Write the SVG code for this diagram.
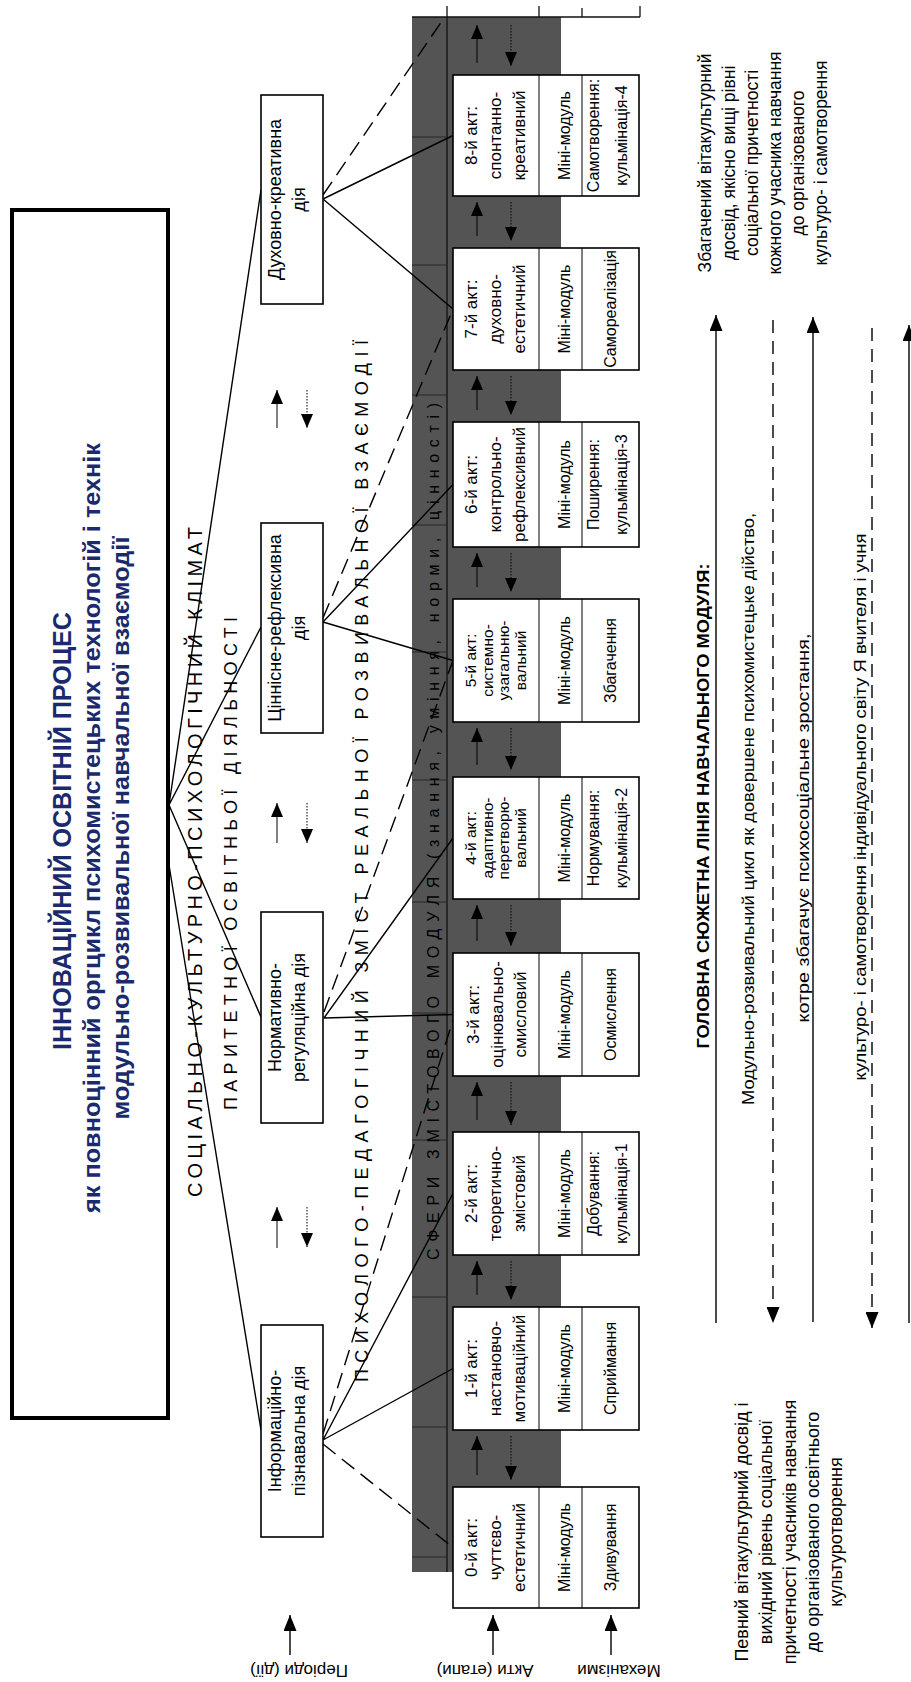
<svg xmlns="http://www.w3.org/2000/svg" width="911" height="1682" viewBox="0 0 911 1682">
<defs>
<marker id="ah" viewBox="0 0 14 12" refX="14" refY="6" markerWidth="14" markerHeight="12" markerUnits="userSpaceOnUse" orient="auto"><path d="M0,0 L14,6 L0,12 Z" fill="#000"/></marker>
<marker id="ahL" viewBox="0 0 16 13" refX="16" refY="6.5" markerWidth="16" markerHeight="13" markerUnits="userSpaceOnUse" orient="auto"><path d="M0,0 L16,6.5 L0,13 Z" fill="#000"/></marker>
</defs>
<style>
text{font-family:"Liberation Sans",Arial,sans-serif;fill:#000}
.m{text-anchor:middle}
.box{fill:#fff;stroke:#000;stroke-width:1.6}
.ln{stroke:#000;stroke-width:1.4;fill:none}
.dash{stroke-dasharray:16 8}
.rd{stroke-dasharray:13 8}
.thin{stroke:#000;stroke-width:1;fill:none}
.dot{stroke:#000;stroke-width:1;stroke-dasharray:1.5 1.5;fill:none}
.a17{font-size:17px}
.a15{font-size:15.5px}
.a16{font-size:16px}
.p18{font-size:18px}
.ttl{font-weight:bold;fill:#1a2a6c}
</style>
<rect x="0" y="0" width="911" height="1682" fill="#fff"/>

<g id="title">
<rect x="12" y="210" width="156" height="1208" fill="#fff" stroke="#000" stroke-width="4"/>
<text class="m ttl" font-size="25" transform="translate(71,831) rotate(-90)" textLength="438" lengthAdjust="spacingAndGlyphs">ІННОВАЦІЙНИЙ ОСВІТНІЙ ПРОЦЕС</text>
<text class="m ttl" font-size="24" transform="translate(100,828) rotate(-90)" textLength="770" lengthAdjust="spacingAndGlyphs">як повноцінний оргцикл психомистецьких технологій і технік</text>
<text class="m ttl" font-size="24" transform="translate(129,828) rotate(-90)" textLength="583" lengthAdjust="spacingAndGlyphs">модульно-розвивальної навчальної взаємодії</text>
</g>

<g id="band">
<rect x="412" y="17" width="149" height="1555" fill="#545454"/>
<path d="M412,17 H640 M447,6 V1572 M539,6 V17 M582,8 V17 M640,6 V17" stroke="#111" stroke-width="1.3" fill="none"/>
<path d="M412,137 H447 M412,265 H447 M412,395 H447 M412,525 H447 M412,652 H447 M412,780 H447 M412,902 H447 M412,1013 H447 M412,1140 H447 M412,1297 H447 M412,1427 H447 M412,1557 H447" stroke="#262626" stroke-width="1"/>
<text font-size="16" transform="translate(439,1260) rotate(-90)" textLength="857" lengthAdjust="spacing">СФЕРИ ЗМІСТОВОГО МОДУЛЯ (знання, уміння, норми, цінності)</text>
</g>

<g id="row-labels">
<text font-size="20" transform="translate(202,1197) rotate(-90)" textLength="670" lengthAdjust="spacing">СОЦІАЛЬНО-КУЛЬТУРНО-ПСИХОЛОГІЧНИЙ КЛІМАТ</text>
<text font-size="18" transform="translate(237,1110) rotate(-90)" textLength="493" lengthAdjust="spacing">ПАРИТЕТНОЇ ОСВІТНЬОЇ ДІЯЛЬНОСТІ</text>
<text font-size="18" transform="translate(368,1382) rotate(-90)" textLength="1042" lengthAdjust="spacing">ПСИХОЛОГО-ПЕДАГОГІЧНИЙ ЗМІСТ РЕАЛЬНОЇ РОЗВИВАЛЬНОЇ ВЗАЄМОДІЇ</text>
</g>

<g id="connectors">
<path class="ln" d="M169,805 L261,190 M169,805 L261,627 M169,805 L261,1017 M169,865 L261,1430"/>
<path class="ln" d="M323,199 L453,135.5 M323,199 L453,309 M323,622 L453,484.5 M323,622 L453,660.5 M324,1018 L453,838 M324,1018 L453,1014.5 M323,1440 L453,1193.5 M323,1440 L453,1368.5"/>
<path class="ln dash" d="M323,195 L444,18 M323,618 L453,309 M324,1012 L453,660.5 M323,1434 L453,1020 M323,1444 L453,1547.5"/>
<g id="period-arrows">
<line class="thin" x1="277" y1="428" x2="277" y2="390" marker-end="url(#ah)"/>
<line class="dot" x1="307" y1="390" x2="307" y2="428" marker-end="url(#ah)"/>
<line class="thin" x1="277" y1="843" x2="277" y2="803" marker-end="url(#ah)"/>
<line class="dot" x1="307" y1="803" x2="307" y2="843" marker-end="url(#ah)"/>
<line class="thin" x1="277" y1="1248" x2="277" y2="1207" marker-end="url(#ah)"/>
<line class="dot" x1="307" y1="1207" x2="307" y2="1247" marker-end="url(#ah)"/>
</g>
<g id="gap-arrows">
<line class="thin" x1="477" y1="63" x2="477" y2="25" marker-end="url(#ah)"/>
<line class="dot" x1="511" y1="25" x2="511" y2="66" marker-end="url(#ah)"/>
<line class="thin" x1="477" y1="236" x2="477" y2="202" marker-end="url(#ah)"/>
<line class="dot" x1="511" y1="202" x2="511" y2="241" marker-end="url(#ah)"/>
<line class="thin" x1="477" y1="410" x2="477" y2="376" marker-end="url(#ah)"/>
<line class="dot" x1="511" y1="376" x2="511" y2="415" marker-end="url(#ah)"/>
<line class="thin" x1="477" y1="587" x2="477" y2="553" marker-end="url(#ah)"/>
<line class="dot" x1="511" y1="553" x2="511" y2="592" marker-end="url(#ah)"/>
<line class="thin" x1="477" y1="765" x2="477" y2="728" marker-end="url(#ah)"/>
<line class="dot" x1="511" y1="728" x2="511" y2="770" marker-end="url(#ah)"/>
<line class="thin" x1="477" y1="941" x2="477" y2="905" marker-end="url(#ah)"/>
<line class="dot" x1="511" y1="905" x2="511" y2="946" marker-end="url(#ah)"/>
<line class="thin" x1="477" y1="1120" x2="477" y2="1082" marker-end="url(#ah)"/>
<line class="dot" x1="511" y1="1082" x2="511" y2="1125" marker-end="url(#ah)"/>
<line class="thin" x1="477" y1="1295" x2="477" y2="1261" marker-end="url(#ah)"/>
<line class="dot" x1="511" y1="1261" x2="511" y2="1300" marker-end="url(#ah)"/>
<line class="thin" x1="477" y1="1475" x2="477" y2="1436" marker-end="url(#ah)"/>
<line class="dot" x1="511" y1="1436" x2="511" y2="1480" marker-end="url(#ah)"/>
</g>
<g id="label-arrows">
<line class="ln" x1="290" y1="1655" x2="290" y2="1615" marker-end="url(#ahL)"/>
<line class="ln" x1="493" y1="1655" x2="493" y2="1615" marker-end="url(#ahL)"/>
<line class="ln" x1="611" y1="1655" x2="611" y2="1615" marker-end="url(#ahL)"/>
</g>
<g id="plot-lines">
<line class="ln" x1="716" y1="1323" x2="716" y2="315" marker-end="url(#ahL)"/>
<line class="ln rd" x1="773" y1="320" x2="773" y2="1323" marker-end="url(#ahL)"/>
<line class="ln" x1="813" y1="1322" x2="813" y2="317" marker-end="url(#ahL)"/>
<line class="ln rd" x1="872" y1="328" x2="872" y2="1328" marker-end="url(#ahL)"/>
<line class="ln" x1="909" y1="1323" x2="909" y2="325" marker-end="url(#ahL)"/>
</g>
</g>

<g id="period-4">
<rect class="box" x="261" y="95" width="62" height="209"/>
<text class="m p18" transform="translate(281,199.5) rotate(-90)">Духовно-креативна</text>
<text class="m p18" transform="translate(305,199.5) rotate(-90)">дія</text>
</g>
<g id="period-3">
<rect class="box" x="261" y="523" width="62" height="210"/>
<text class="m p18" transform="translate(281,628) rotate(-90)">Ціннісне-рефлексивна</text>
<text class="m p18" transform="translate(305,628) rotate(-90)">дія</text>
</g>
<g id="period-2">
<rect class="box" x="261" y="912" width="62" height="211"/>
<text class="m p18" transform="translate(281,1017.5) rotate(-90)">Нормативно-</text>
<text class="m p18" transform="translate(305,1017.5) rotate(-90)">регуляційна дія</text>
</g>
<g id="period-1">
<rect class="box" x="261" y="1325" width="62" height="212"/>
<text class="m p18" transform="translate(281,1431) rotate(-90)">Інформаційно-</text>
<text class="m p18" transform="translate(305,1431) rotate(-90)">пізнавальна дія</text>
</g>

<g id="act-8">
<rect class="box" x="453" y="75" width="186" height="121"/>
<path class="thin" d="M539,75 V196 M582,75 V196" stroke-width="1.4"/>
<text class="m a17" transform="translate(477,135.5) rotate(-90)">8-й акт:</text>
<text class="m a17" transform="translate(501,135.5) rotate(-90)">спонтанно-</text>
<text class="m a17" transform="translate(525,135.5) rotate(-90)">креативний</text>
<text class="m a16" transform="translate(570,135.5) rotate(-90)">Міні-модуль</text>
<text class="m a16" transform="translate(599,135.5) rotate(-90)">Самотворення:</text>
<text class="m a16" transform="translate(627,135.5) rotate(-90)">кульмінація-4</text>
</g>
<g id="act-7">
<rect class="box" x="453" y="248" width="186" height="122"/>
<path class="thin" d="M539,248 V370 M582,248 V370" stroke-width="1.4"/>
<text class="m a17" transform="translate(477,309) rotate(-90)">7-й акт:</text>
<text class="m a17" transform="translate(501,309) rotate(-90)">духовно-</text>
<text class="m a17" transform="translate(525,309) rotate(-90)">естетичний</text>
<text class="m a16" transform="translate(570,309) rotate(-90)">Міні-модуль</text>
<text class="m a16" transform="translate(616,309) rotate(-90)">Самореалізація</text>
</g>
<g id="act-6">
<rect class="box" x="453" y="422" width="186" height="125"/>
<path class="thin" d="M539,422 V547 M582,422 V547" stroke-width="1.4"/>
<text class="m a17" transform="translate(477,484.5) rotate(-90)">6-й акт:</text>
<text class="m a17" transform="translate(501,484.5) rotate(-90)">контрольно-</text>
<text class="m a17" transform="translate(525,484.5) rotate(-90)">рефлексивний</text>
<text class="m a16" transform="translate(570,484.5) rotate(-90)">Міні-модуль</text>
<text class="m a16" transform="translate(599,484.5) rotate(-90)">Поширення:</text>
<text class="m a16" transform="translate(627,484.5) rotate(-90)">кульмінація-3</text>
</g>
<g id="act-5">
<rect class="box" x="453" y="599" width="186" height="123"/>
<path class="thin" d="M539,599 V722 M582,599 V722" stroke-width="1.4"/>
<text class="m a15" transform="translate(476,660.5) rotate(-90)">5-й акт:</text>
<text class="m a15" transform="translate(492.5,660.5) rotate(-90)">системно-</text>
<text class="m a15" transform="translate(509,660.5) rotate(-90)">узагальню-</text>
<text class="m a15" transform="translate(525.5,660.5) rotate(-90)">вальний</text>
<text class="m a16" transform="translate(570,660.5) rotate(-90)">Міні-модуль</text>
<text class="m a16" transform="translate(616,660.5) rotate(-90)">Збагачення</text>
</g>
<g id="act-4">
<rect class="box" x="453" y="777" width="186" height="122"/>
<path class="thin" d="M539,777 V899 M582,777 V899" stroke-width="1.4"/>
<text class="m a15" transform="translate(476,838) rotate(-90)">4-й акт:</text>
<text class="m a15" transform="translate(492.5,838) rotate(-90)">адаптивно-</text>
<text class="m a15" transform="translate(509,838) rotate(-90)">перетворю-</text>
<text class="m a15" transform="translate(525.5,838) rotate(-90)">вальний</text>
<text class="m a16" transform="translate(570,838) rotate(-90)">Міні-модуль</text>
<text class="m a16" transform="translate(599,838) rotate(-90)">Нормування:</text>
<text class="m a16" transform="translate(627,838) rotate(-90)">кульмінація-2</text>
</g>
<g id="act-3">
<rect class="box" x="453" y="953" width="186" height="123"/>
<path class="thin" d="M539,953 V1076 M582,953 V1076" stroke-width="1.4"/>
<text class="m a17" transform="translate(479,1014.5) rotate(-90)">3-й акт:</text>
<text class="m a17" transform="translate(503,1014.5) rotate(-90)">оцінювально-</text>
<text class="m a17" transform="translate(526,1014.5) rotate(-90)">смисловий</text>
<text class="m a16" transform="translate(570,1014.5) rotate(-90)">Міні-модуль</text>
<text class="m a16" transform="translate(616,1014.5) rotate(-90)">Осмислення</text>
</g>
<g id="act-2">
<rect class="box" x="453" y="1132" width="186" height="123"/>
<path class="thin" d="M539,1132 V1255 M582,1132 V1255" stroke-width="1.4"/>
<text class="m a17" transform="translate(477,1193.5) rotate(-90)">2-й акт:</text>
<text class="m a17" transform="translate(501,1193.5) rotate(-90)">теоретично-</text>
<text class="m a17" transform="translate(525,1193.5) rotate(-90)">змістовий</text>
<text class="m a16" transform="translate(570,1193.5) rotate(-90)">Міні-модуль</text>
<text class="m a16" transform="translate(599,1193.5) rotate(-90)">Добування:</text>
<text class="m a16" transform="translate(627,1193.5) rotate(-90)">кульмінація-1</text>
</g>
<g id="act-1">
<rect class="box" x="453" y="1307" width="186" height="123"/>
<path class="thin" d="M539,1307 V1430 M582,1307 V1430" stroke-width="1.4"/>
<text class="m a17" transform="translate(477,1368.5) rotate(-90)">1-й акт:</text>
<text class="m a17" transform="translate(501,1368.5) rotate(-90)">настановчо-</text>
<text class="m a17" transform="translate(525,1368.5) rotate(-90)">мотиваційний</text>
<text class="m a16" transform="translate(570,1368.5) rotate(-90)">Міні-модуль</text>
<text class="m a16" transform="translate(616,1368.5) rotate(-90)">Сприймання</text>
</g>
<g id="act-0">
<rect class="box" x="453" y="1487" width="186" height="121"/>
<path class="thin" d="M539,1487 V1608 M582,1487 V1608" stroke-width="1.4"/>
<text class="m a17" transform="translate(477,1547.5) rotate(-90)">0-й акт:</text>
<text class="m a17" transform="translate(501,1547.5) rotate(-90)">чуттєво-</text>
<text class="m a17" transform="translate(525,1547.5) rotate(-90)">естетичний</text>
<text class="m a16" transform="translate(570,1547.5) rotate(-90)">Міні-модуль</text>
<text class="m a16" transform="translate(616,1547.5) rotate(-90)">Здивування</text>
</g>

<g id="bottom-labels">
<text class="m" font-size="17" transform="translate(299,1665) rotate(180)">Періоди (дії)</text>
<text class="m" font-size="17" transform="translate(485,1665) rotate(180)">Акти (етапи)</text>
<text class="m" font-size="17" transform="translate(619,1665) rotate(180)">Механізми</text>
</g>

<g id="plot-texts">
<text class="m" font-size="17" font-weight="bold" transform="translate(709,806) rotate(-90)" textLength="485" lengthAdjust="spacingAndGlyphs">ГОЛОВНА СЮЖЕТНА ЛІНІЯ НАВЧАЛЬНОГО МОДУЛЯ:</text>
<text class="m" font-size="17" transform="translate(754,809) rotate(-90)" textLength="592" lengthAdjust="spacingAndGlyphs">Модульно-розвивальний цикл як довершене психомистецьке дійство,</text>
<text class="m" font-size="17" transform="translate(809,828) rotate(-90)" textLength="389" lengthAdjust="spacingAndGlyphs">котре збагачує психосоціальне зростання,</text>
<text class="m" font-size="17" transform="translate(866,807) rotate(-90)" textLength="547" lengthAdjust="spacingAndGlyphs">культуро- і самотворення індивідуального світу Я вчителя і учня</text>
</g>

<g id="result-text">
<text class="m" font-size="17.5" transform="translate(711,163) rotate(-90)">Збагачений вітакультурний</text>
<text class="m" font-size="17.5" transform="translate(735,163) rotate(-90)">досвід, якісно вищі рівні</text>
<text class="m" font-size="17.5" transform="translate(758,163) rotate(-90)">соціальної причетності</text>
<text class="m" font-size="17.5" transform="translate(781,163) rotate(-90)">кожного учасника навчання</text>
<text class="m" font-size="17.5" transform="translate(804,163) rotate(-90)">до організованого</text>
<text class="m" font-size="17.5" transform="translate(827,163) rotate(-90)">культуро- і самотворення</text>
</g>

<g id="start-text">
<text class="m" font-size="18" transform="translate(748,1532) rotate(-90)">Певний вітакультурний досвід і</text>
<text class="m" font-size="18" transform="translate(772,1532) rotate(-90)">вихідний рівень соціальної</text>
<text class="m" font-size="18" transform="translate(796,1532) rotate(-90)">причетності учасників навчання</text>
<text class="m" font-size="18" transform="translate(819,1532) rotate(-90)">до організованого освітнього</text>
<text class="m" font-size="18" transform="translate(842,1532) rotate(-90)">культуротворення</text>
</g>
</svg>
